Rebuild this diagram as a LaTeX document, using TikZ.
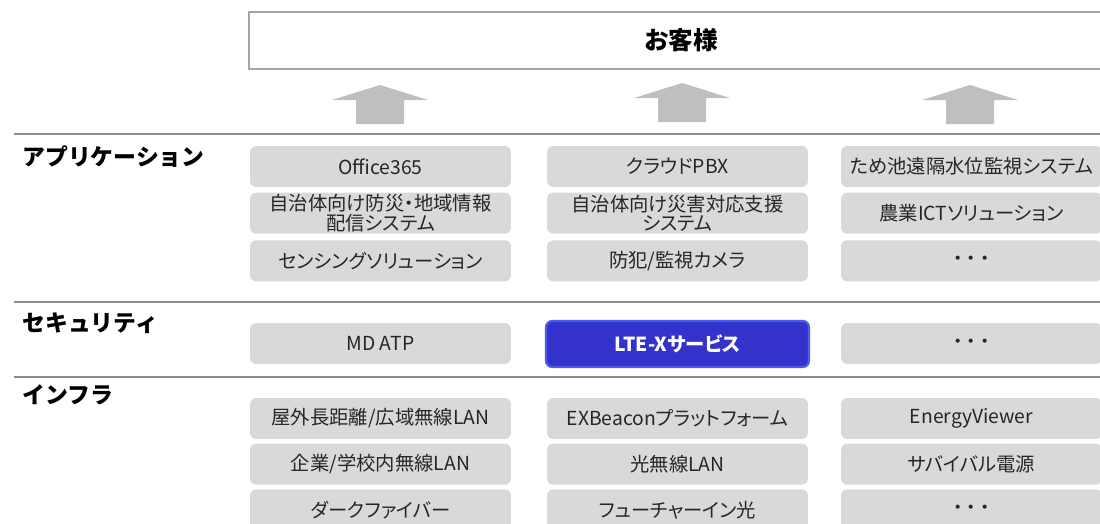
\documentclass[tikz,border=0pt]{standalone}
\usepackage{fontspec}
\setmainfont{Noto Sans CJK JP}
\newfontfamily\narrowjp[RawFeature=+palt]{Noto Sans CJK JP}
\usetikzlibrary{positioning}

\definecolor{boxgray}{HTML}{D9D9D9}
\definecolor{linegray}{HTML}{8C8C8C}
\definecolor{framegray}{HTML}{A6A6A6}
\definecolor{arrowgray}{HTML}{BFBFBF}
\definecolor{ltefill}{HTML}{3333CC}
\definecolor{lteedge}{HTML}{4F5BF0}

\newcommand{\tridots}{{\normalfont ・\kern-0.3em・\kern-0.3em・}}

\begin{document}
\begin{tikzpicture}[x=0.02cm,y=-0.02cm,
    item/.style={rectangle, rounded corners=3.5pt, fill=boxgray, text=black!85,
      minimum width=5.22cm, minimum height=0.82cm, inner sep=0pt, align=center,
      font=\narrowjp\fontsize{11}{11}\selectfont},
    layer/.style={anchor=north west, inner sep=0pt, font=\fontsize{13}{15}\selectfont\bfseries},
    sep/.style={linegray, line width=0.6pt}]
        \useasboundingbox (0,0) rectangle (1100,524);

        % customer
        \node[draw=framegray, line width=1.2pt, minimum width=17.3cm, minimum height=1.14cm,
          font=\fontsize{14}{16}\selectfont\bfseries] (customer) at (681,40.5) {お客様};

        % block arrows up to the customer
        \foreach \c/\t in {380/85, 682/83, 970/85}
          \fill[arrowgray] (\c,\t) -- (\c+48,\t+15) -- (\c+24,\t+15) -- (\c+24,\t+39)
            -- (\c-24,\t+39) -- (\c-24,\t+15) -- (\c-48,\t+15) -- cycle;

        % layer separators
        \draw[sep] (14,134) -- (1100,134);
        \draw[sep] (14,302) -- (1100,302);
        \draw[sep] (14,377) -- (1100,377);

        \node[layer] (app) at (22,145) {アプリケーション};
        \node[layer] (sec) at (22,312) {セキュリティ};
        \node[layer] (infra) at (22,384) {インフラ};

        % applications
        \node[item] (office) at (380.5,166.5) {Office365};
        \node[item, below=0.1cm of office] (bousai) {自治体向け防災・地域情報\\配信システム};
        \node[item, below=0.12cm of bousai] (sensing) {センシングソリューション};

        \node[item] (pbx) at (677.5,166.5) {クラウドPBX};
        \node[item, below=0.1cm of pbx] (saigai) {自治体向け災害対応支援\\システム};
        \node[item, below=0.12cm of saigai] (camera) {防犯/監視カメラ};

        \node[item] (tameike) at (971.5,166.5) {ため池遠隔水位監視システム};
        \node[item, below=0.1cm of tameike] (nogyo) {農業ICTソリューション};
        \node[item, below=0.12cm of nogyo] (appmore) {\tridots};

        % security
        \node[item] (mdatp) at (380.5,343.5) {MD ATP};
        \node[item, fill=ltefill, draw=lteedge, line width=1.2pt, text=white,
          minimum width=5.26cm, minimum height=0.92cm,
          font=\narrowjp\fontsize{11}{11}\selectfont\bfseries] (ltex) at (677.5,344) {LTE-Xサービス};
        \node[item] (secmore) at (971.5,343.5) {\tridots};

        % infrastructure
        \node[item] (outdoor) at (380.5,418.5) {屋外長距離/広域無線LAN};
        \node[item, below=0.08cm of outdoor] (indoor) {企業/学校内無線LAN};
        \node[item, below=0.08cm of indoor] (fiber) {ダークファイバー};

        \node[item] (exbeacon) at (677.5,418.5) {EXBeaconプラットフォーム};
        \node[item, below=0.08cm of exbeacon] (optical) {光無線LAN};
        \node[item, below=0.08cm of optical] (future) {フューチャーイン光};

        \node[item] (energy) at (971.5,418.5) {EnergyViewer};
        \node[item, below=0.08cm of energy] (power) {サバイバル電源};
        \node[item, below=0.08cm of power] (inframore) {\tridots};
      \end{tikzpicture}
\end{document}
